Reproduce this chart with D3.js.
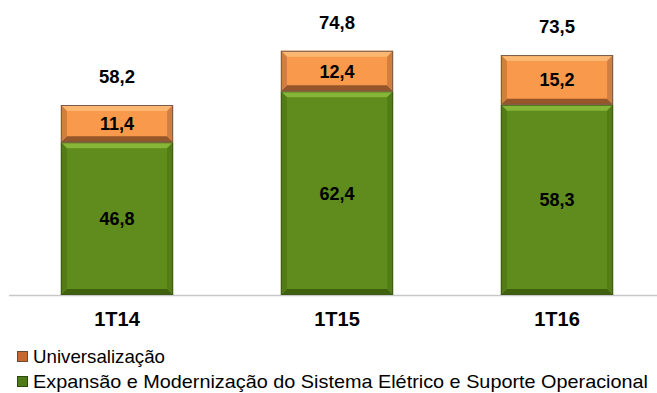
<!DOCTYPE html>
<html><head><meta charset="utf-8">
<script src="https://cdn.jsdelivr.net/npm/d3@7"></script>
<style>body{margin:0;background:#fff}svg{display:block}text{font-family:"Liberation Sans",Arial,sans-serif}</style>
</head><body>
<svg id="c" width="657" height="393"></svg>
<script>
const categories = ["1T14", "1T15", "1T16"];
const expansao = [46.8, 62.4, 58.3];
const universalizacao = [11.4, 12.4, 15.2];
const totals = [58.2, 74.8, 73.5];
const seriesNames = ["Universalização", "Expansão e Modernização do Sistema Elétrico e Suporte Operacional"];

const svg = d3.select("#c");
const base = 295;
const x = d3.scaleBand().domain(categories).range([7, 667]).paddingInner(0.49).paddingOuter(0.245);
const y = d3.scaleLinear().domain([0, 58.2]).range([base, 105]);

const fmt = v => d3.format(".1f")(v).replace(".", ",");

svg.append("line").attr("x1", 9).attr("x2", 657).attr("y1", base + 0.5).attr("y2", base + 0.5)
  .attr("stroke", "#c8c8c8").attr("stroke-width", 1.5);

const styles = [
  {main: "#5f8c1c", light: "#86b538", dark: "#3f610e", side: "#537c16", border: "#3e5a18"},
  {main: "#f9994b", light: "#fcb872", dark: "#95562a", side: "#d27e3c", border: "#7a5a48"}
];

function bevel(g, x0, y0, w, h, s) {
  const b = Math.min(6, h / 4);
  g.append("rect").attr("x", x0).attr("y", y0).attr("width", w).attr("height", h).attr("fill", s.main);
  g.append("polygon").attr("points", [[x0, y0], [x0 + w, y0], [x0 + w - b, y0 + b], [x0 + b, y0 + b]].join(" ")).attr("fill", s.light);
  g.append("polygon").attr("points", [[x0, y0 + h], [x0 + w, y0 + h], [x0 + w - b, y0 + h - b], [x0 + b, y0 + h - b]].join(" ")).attr("fill", s.dark);
  g.append("polygon").attr("points", [[x0, y0], [x0 + b, y0 + b], [x0 + b, y0 + h - b], [x0, y0 + h]].join(" ")).attr("fill", s.side);
  g.append("polygon").attr("points", [[x0 + w, y0], [x0 + w - b, y0 + b], [x0 + w - b, y0 + h - b], [x0 + w, y0 + h]].join(" ")).attr("fill", s.side);
  g.append("rect").attr("x", x0 + 0.5).attr("y", y0 + 0.5).attr("width", w - 1).attr("height", h - 1)
    .attr("fill", "none").attr("stroke", s.border).attr("stroke-width", 1);
}

const g = svg.append("g");
categories.forEach((c, i) => {
  const x0 = x(c), w = x.bandwidth();
  const yG = y(expansao[i]);
  bevel(g, x0, yG, w, base - yG, styles[0]);
  const yO = y(expansao[i] + universalizacao[i]);
  bevel(g, x0, yO, w, yG - yO, styles[1]);
  g.append("text").attr("x", x0 + w / 2).attr("y", (yG + base) / 2 + 6.5).attr("text-anchor", "middle")
    .attr("font-size", 18).attr("font-weight", "bold").attr("fill", "#000").text(fmt(expansao[i]));
  g.append("text").attr("x", x0 + w / 2).attr("y", (yO + yG) / 2 + 6.5).attr("text-anchor", "middle")
    .attr("font-size", 18).attr("font-weight", "bold").attr("fill", "#000").text(fmt(universalizacao[i]));
  g.append("text").attr("x", x0 + w / 2).attr("y", yO - 22).attr("text-anchor", "middle")
    .attr("font-size", 18.5).attr("font-weight", "bold").attr("fill", "#000").text(fmt(totals[i]));
  g.append("text").attr("x", x0 + w / 2).attr("y", base + 31).attr("text-anchor", "middle")
    .attr("font-size", 20).attr("font-weight", "bold").attr("fill", "#000").text(c);
});

const leg = svg.append("g");
const legStyles = [
  {fill: "#c8682a", stroke: "#6a4a38"},
  {fill: "#4f7a18", stroke: "#2f4a10"}
];
const legLens = [132, 615];
const legSizes = [19, 19];
seriesNames.forEach((n, i) => {
  const ly = 363 + i * 25;
  const s = legStyles[i];
  leg.append("rect").attr("x", 17.5).attr("y", ly - 11.5).attr("width", 10).attr("height", 10)
    .attr("fill", s.fill).attr("stroke", s.stroke);
  leg.append("text").attr("x", 33).attr("y", ly).attr("font-size", legSizes[i]).attr("fill", "#000")
    .attr("textLength", legLens[i]).attr("lengthAdjust", "spacingAndGlyphs").text(n);
});
</script>
</body></html>
